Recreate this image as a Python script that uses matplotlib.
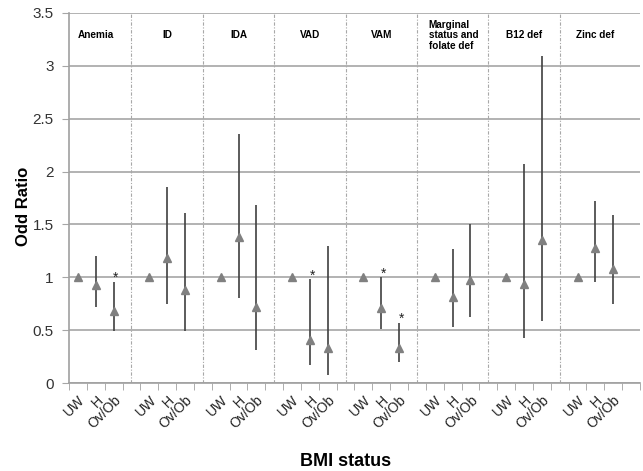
import matplotlib.pyplot as plt
import numpy as np

groups = ['Anemia', 'ID', 'IDA', 'VAD', 'VAM', 'Marginal\nstatus and\nfolate def', 'B12 def', 'Zinc def']
bmi = ['UW', 'H', 'Ov/Ob']

# odds ratio and 95% CI per group (UW is the reference)
odds = [[1, 0.93, 0.68], [1, 1.18, 0.88], [1, 1.38, 0.72], [1, 0.41, 0.33],
        [1, 0.71, 0.33], [1, 0.81, 0.97], [1, 0.94, 1.35], [1, 1.28, 1.08]]
lower = [[1, 0.72, 0.49], [1, 0.75, 0.49], [1, 0.80, 0.31], [1, 0.17, 0.08],
         [1, 0.51, 0.20], [1, 0.53, 0.62], [1, 0.43, 0.59], [1, 0.96, 0.75]]
upper = [[1, 1.20, 0.96], [1, 1.85, 1.61], [1, 2.36, 1.68], [1, 0.98, 1.30],
         [1, 1.00, 0.57], [1, 1.27, 1.50], [1, 2.07, 3.09], [1, 1.72, 1.59]]
signif = [[0, 0, 1], [0, 0, 0], [0, 0, 0], [0, 1, 0],
          [0, 1, 1], [0, 0, 0], [0, 0, 0], [0, 0, 0]]

plt.rcParams['font.family'] = ['Liberation Sans', 'DejaVu Sans']

fig = plt.figure(figsize=(6.43, 4.71), dpi=100)
ax = fig.add_axes([0.1073, 0.1868, 0.888, 0.7856])

n_cat = len(groups) * 4
xs, ys, lo, hi, labels = [], [], [], [], []
for g in range(len(groups)):
    for j in range(3):
        x = g * 4 + j
        xs.append(x)
        ys.append(odds[g][j])
        lo.append(lower[g][j])
        hi.append(upper[g][j])
        if signif[g][j]:
            ax.text(x + 0.12, upper[g][j] - 0.03, '*', ha='center', va='bottom', fontsize=10, color='#222222')
    if '\n' in groups[g]:
        ax.text(g * 4 - 0.35, 3.29, groups[g], ha='left', va='center', fontsize=7.2,
                fontweight='bold', linespacing=1.05)
    else:
        ax.text(g * 4 + 1, 3.29, groups[g], ha='center', va='center', fontsize=7.2,
                fontweight='bold')
    if g < len(groups) - 1:
        ax.axvline(g * 4 + 3, color='#a8a8a8', lw=0.8, ls=(0, (3, 1.5, 1, 1.5)), zorder=1)
    labels += bmi + ['']

xs = np.array(xs)
ys = np.array(ys)
ax.vlines(xs, lo, hi, color='#404040', lw=1.2, zorder=3)
ax.plot(xs, ys, ls='none', marker='^', ms=5.5, color='#808080', zorder=4)

ax.set_xlim(-0.5, n_cat - 0.5)
ax.set_ylim(0, 3.5)
ax.set_yticks(np.arange(0, 3.51, 0.5))
ax.set_yticklabels(['0', '0.5', '1', '1.5', '2', '2.5', '3', '3.5'], fontsize=11, color='#333333')
ax.yaxis.grid(True, color='#a6a6a6', lw=1.2)
ax.set_axisbelow(True)
ax.tick_params(axis='y', length=5, color='#a6a6a6', pad=6)

ax.set_xticks(np.arange(n_cat))
ax.set_xticklabels(labels, rotation=45, ha='right', rotation_mode='anchor', fontsize=10, color='#222222')
ax.set_xticks(np.arange(-0.5, n_cat), minor=True)
ax.tick_params(axis='x', which='major', length=0, pad=7)
ax.tick_params(axis='x', which='minor', length=5, color='#a0a0a0')

for s in ['top', 'right']:
    ax.spines[s].set_visible(False)
for s in ['left', 'bottom']:
    ax.spines[s].set_color('#a0a0a0')
    ax.spines[s].set_linewidth(1.2)

fig.text(24 / 643, 1 - 206 / 471, 'Odd Ratio', rotation=90, ha='center', va='center',
         fontsize=12, fontweight='bold')
fig.text(0.537, 1 - 466 / 471, 'BMI status', ha='center', va='baseline', fontsize=13, fontweight='bold')

fig.savefig('out.png', dpi=100)
